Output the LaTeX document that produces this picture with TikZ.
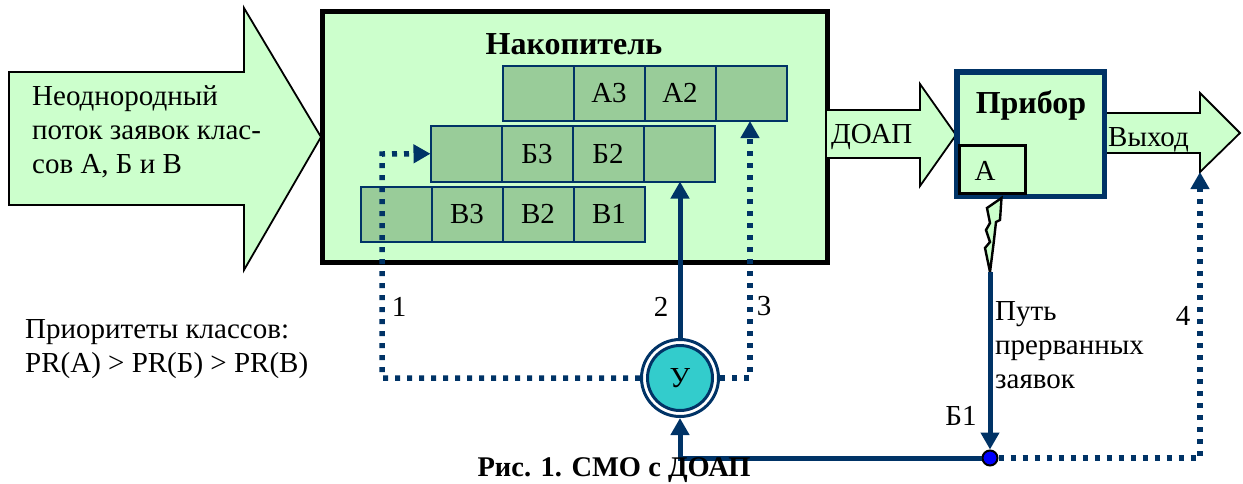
\documentclass[tikz,border=0pt]{standalone}
\usepackage{fontspec}
\setmainfont{Liberation Serif}
\usetikzlibrary{arrows.meta,calc}
\definecolor{pale}{RGB}{204,255,204}
\definecolor{cellg}{RGB}{153,204,153}
\definecolor{navy}{RGB}{0,51,102}
\definecolor{teal}{RGB}{51,204,204}
\tikzset{
 x=1pt,y=-1pt,
 blockarrow/.style={draw=black,line width=1.8pt,fill=pale,line join=miter},
 cellbox/.style={draw=navy,line width=2pt,fill=cellg,minimum width=71pt,minimum height=55.5pt,inner sep=0pt,outer sep=0pt,font=\fontsize{29}{29}\selectfont},
 txt/.style={inner sep=0pt,font=\fontsize{29}{34}\selectfont,align=left},
 btxt/.style={inner sep=0pt,font=\fontsize{32}{34}\selectfont\bfseries},
 solidcon/.style={draw=navy,line width=5pt},
 dotcon/.style={draw=navy,line width=5.5pt,dash pattern=on 5pt off 7pt},
 tip/.style={-{Triangle[length=17pt,width=18pt]}}
}
\begin{document}
\begin{tikzpicture}
\useasboundingbox (0,0) rectangle (1243,483);
% big input arrow
\draw[blockarrow] (9,72) -- (244,72) -- (244,8) -- (321,137) -- (244,270) -- (244,205) -- (9,205) -- cycle;
\node[txt,anchor=north west] (inp) at (32,85) {Неоднородный\\поток заявок клас-\\сов А, Б и В};
% store
\node[draw=black,line width=5pt,fill=pale,minimum width=505pt,minimum height=251pt,inner sep=0pt,anchor=north west] (store) at (319.5,8.5) {};
\node[btxt,anchor=center] (storet) at (574,44) {Накопитель};
% rows
\foreach \lab [count=\i from 0] in {{},А3,А2,{}} { \node[cellbox,anchor=north west] (a\i) at ({502.5+71*\i},65.5) {\lab}; }
\foreach \lab [count=\i from 0] in {{},Б3,Б2,{}} { \node[cellbox,anchor=north west] (b\i) at ({430.5+71*\i},126) {\lab}; }
\foreach \lab [count=\i from 0] in {{},В3,В2,В1} { \node[cellbox,anchor=north west] (c\i) at ({360.5+71*\i},186.5) {\lab}; }
% DOAP arrow
\draw[blockarrow] (827,110) -- (920,110) -- (920,84) -- (956,135) -- (920,186) -- (920,158) -- (827,158);
\node[txt,anchor=west] (doap) at (831,137) {ДОАП};
% output arrow
\draw[blockarrow] (1107,113) -- (1200,113) -- (1200,93) -- (1240,133) -- (1200,172) -- (1200,153) -- (1107,153);
\node[txt,anchor=west] (out) at (1108,140) {Выход};
% device
\node[draw=navy,line width=5.5pt,fill=pale,minimum width=147.5pt,minimum height=124.5pt,inner sep=0pt,anchor=north west] (dev) at (954,69) {};
\node[btxt,anchor=center] (devt) at (1031,105) {Прибор};
\node[draw=black,line width=3pt,fill=pale,minimum width=66pt,minimum height=48pt,inner sep=0pt,anchor=north west] (abox) at (958,144) {};
\node[txt,anchor=center] (at) at (985,171) {А};
% lightning
\draw[draw=black,line width=2.4pt,fill=pale,line join=miter] (1001.5,198) -- (987,208) -- (990,223) -- (986,230) -- (990,242) -- (985,248) -- (990,272) -- (994,240) -- (996,222) -- (1000,220) -- cycle;
% controller
\node[circle,draw=navy,line width=3pt,fill=white,minimum size=77pt,inner sep=0pt] (u) at (680,378) {};
\node[circle,draw=navy,line width=3pt,fill=teal,minimum size=65pt,inner sep=0pt,font=\fontsize{29}{29}\selectfont] (ui) at (680,378) {У};
% junction
\node[circle,draw=black,line width=2pt,fill=blue,minimum size=15pt,inner sep=0pt] (j) at (990,458) {};
\coordinate (lstart) at (990,272);
% connectors
\draw[solidcon,tip] (u.north) -- (b3.south -| u.north);
\draw[dotcon,tip] (u.west) -- (382,378) -- (382,154) -- (b0.west);
\draw[dotcon,tip] (u.east) -- (750,378) -- (a3.south -| 750,0);
\draw[solidcon,tip] (j.west) -- (680,458) -- (u.south);
\draw[solidcon,tip] (lstart) -- (j.north);
\draw[dotcon,tip] (j.east) -- (1200,458) -- (1200,172);
% labels
\node[txt] (n1) at (399,307) {1};
\node[txt] (n2) at (661,307) {2};
\node[txt] (n3) at (764,306) {3};
\node[txt] (n4) at (1183,316) {4};
\node[txt,anchor=north west] (path) at (995,301) {Путь\\прерванных\\заявок};
\node[txt] (b1) at (961,416) {Б1};
\node[txt,anchor=north west] (pri) at (25,319) {Приоритеты классов:\\PR(А) > PR(Б) > PR(В)};
\node[inner sep=0pt,font=\fontsize{28.5}{28.5}\selectfont\bfseries] (cap) at (614,470) {Рис. 1. СМО с ДОАП};
\end{tikzpicture}
\end{document}
